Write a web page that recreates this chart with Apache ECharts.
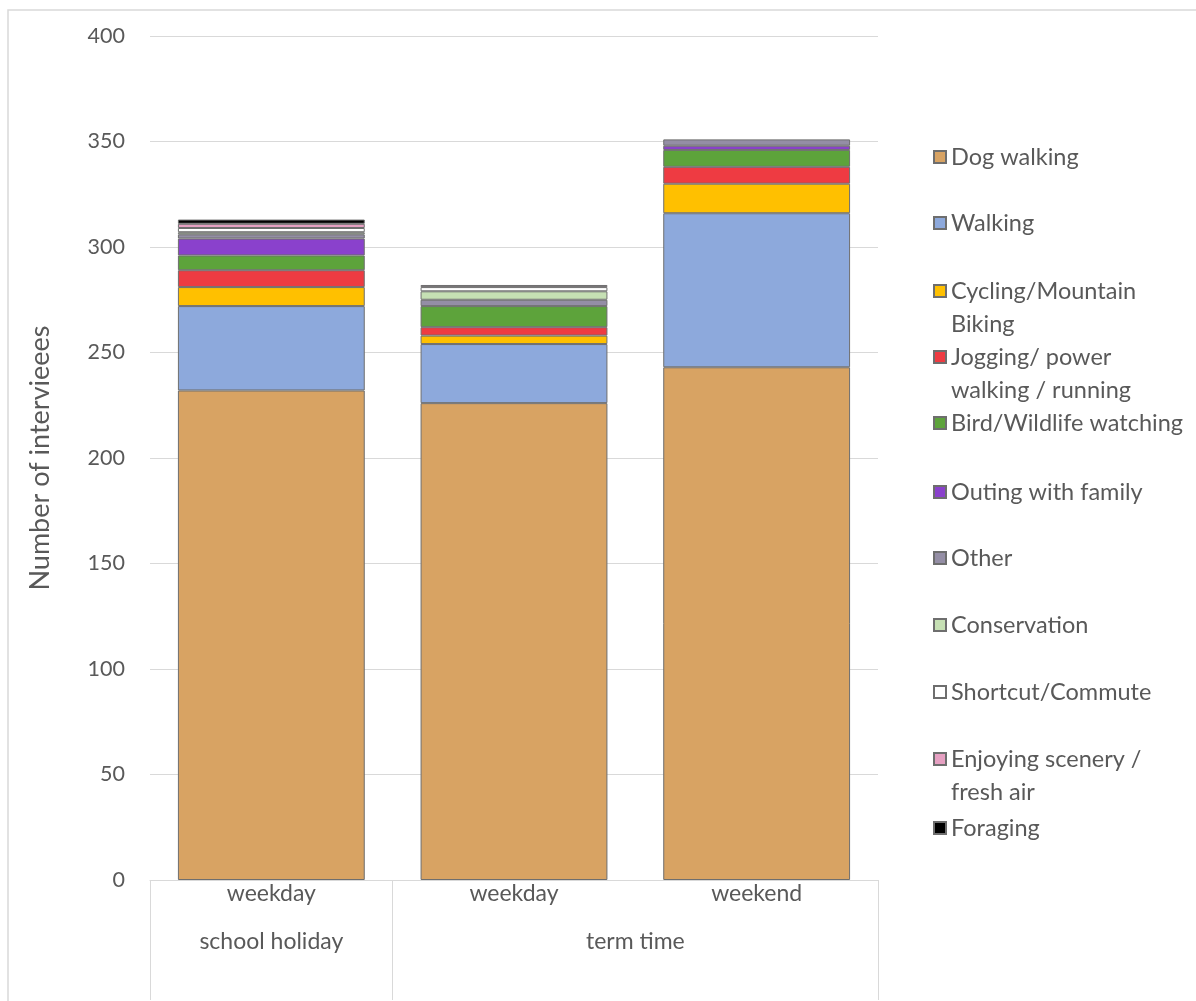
<!DOCTYPE html>
<html>
<head>
<meta charset="utf-8">
<script src="https://cdn.jsdelivr.net/npm/echarts@6/dist/echarts.min.js"></script>
<style>
  html, body { margin: 0; padding: 0; background: #ffffff; }
  #chart { width: 1196px; height: 1001px; }
</style>
</head>
<body>
<div id="chart"></div>
<script>
// Visitor activity by period (stacked counts of interviewees)
const categories = ['weekday', 'weekday', 'weekend'];
const groupLabels = ['school holiday', 'term time'];
const groupSizes = [1, 2];

const dogWalking      = [232, 226, 243];
const walking         = [40, 28, 73];
const cycling         = [9, 4, 14];
const jogging         = [8, 4, 8];
const birdWatching    = [7, 10, 8];
const outingFamily    = [8, 0, 2];
const other           = [2, 3, 3];
const conservation    = [1, 4, 0];
const shortcut        = [2, 2, 0];
const enjoyingScenery = [2, 1, 0];
const foraging        = [2, 0, 0];

const yTicks = { min: 0, max: 400, interval: 50 };

const seriesNames = [
  'Dog walking', 'Walking', 'Cycling/Mountain Biking', 'Jogging/ power walking / running',
  'Bird/Wildlife watching', 'Outing with family', 'Other', 'Conservation',
  'Shortcut/Commute', 'Enjoying scenery / fresh air', 'Foraging'
];
// legend text, wrapped as shown
const legendLines = [
  ['Dog walking'], ['Walking'], ['Cycling/Mountain', 'Biking'], ['Jogging/ power', 'walking / running'],
  ['Bird/Wildlife watching'], ['Outing with family'], ['Other'], ['Conservation'],
  ['Shortcut/Commute'], ['Enjoying scenery /', 'fresh air'], ['Foraging']
];
const seriesValues = [
  dogWalking, walking, cycling, jogging, birdWatching, outingFamily,
  other, conservation, shortcut, enjoyingScenery, foraging
];
const colors = [
  '#D8A363', '#8DA9DC', '#FFC000', '#EE3B42', '#5DA33B', '#8A41CC',
  '#948EA5', '#C6E0B4', '#FFFFFF', '#E6A0C2', '#000000'
];

const textColor = '#595959';
const fontFamily = 'Lato, "Open Sans", sans-serif';
const gridLeft = 150, gridTop = 36, gridRight = 318, gridBottom = 121;

// legend item centres (y) down the right-hand side
const legendCentres = [152, 218, 286, 352, 418, 487, 553, 620, 687, 754, 823];
const legendLineHeight = 33;

const legends = seriesNames.map((name, i) => {
  const lines = legendLines[i];
  const multi = lines.length > 1;
  // a blank first line keeps the swatch level with the first text line
  const text = multi ? ' \n' + lines.join('\n') : lines[0];
  const boxH = multi ? legendLineHeight * 3 : legendLineHeight;
  return {
    data: [name],
    orient: 'vertical',
    left: 928,
    top: legendCentres[i] - boxH / 2,
    itemWidth: 12,
    itemHeight: 12,
    icon: 'rect',
    selectedMode: false,
    formatter: () => text,
    textStyle: {
      color: textColor,
      fontSize: 23.5,
      fontFamily: fontFamily,
      lineHeight: legendLineHeight
    }
  };
});

// group label positions (centre of each group on a 0..n scale)
const groupCentres = [];
const groupEdges = [0];
let acc = 0;
groupSizes.forEach(s => { groupCentres.push(acc + s / 2); acc += s; groupEdges.push(acc); });

const series = seriesNames.map((name, i) => ({
  name: name,
  type: 'bar',
  stack: 'total',
  xAxisIndex: 0,
  barWidth: '77%',
  data: seriesValues[i].map(v => (v === 0 ? '-' : v)),
  itemStyle: {
    color: colors[i],
    borderColor: '#6E6E6E',
    borderWidth: 1
  },
  emphasis: { disabled: true }
}));

const chart = echarts.init(document.getElementById('chart'), null, { renderer: 'canvas' });
chart.setOption({
  animation: false,
  backgroundColor: '#ffffff',
  grid: { left: gridLeft, top: gridTop, right: gridRight, bottom: gridBottom },
  legend: legends,
  graphic: [{
    type: 'rect',
    shape: { x: 8, y: 10, width: 1200, height: 1000 },
    style: { fill: 'none', stroke: '#D9D9D9', lineWidth: 1.5 },
    silent: true
  }],
  xAxis: [
    {
      type: 'category',
      data: categories,
      position: 'bottom',
      axisLine: { show: true, lineStyle: { color: '#D9D9D9', width: 1 } },
      axisTick: { show: false },
      axisLabel: { margin: 2, color: textColor, fontSize: 23, fontFamily: fontFamily },
      splitLine: { show: false }
    },
    {
      type: 'value',
      min: 0,
      max: groupEdges[groupEdges.length - 1],
      position: 'bottom',
      axisLine: { show: false },
      splitLine: { show: false },
      axisTick: {
        show: true,
        customValues: groupEdges,
        length: 120,
        lineStyle: { color: '#D9D9D9', width: 1 }
      },
      axisLabel: {
        customValues: groupCentres,
        margin: 50,
        color: textColor,
        fontSize: 23,
        fontFamily: fontFamily,
        formatter: (v) => {
          const idx = groupCentres.indexOf(v);
          return idx >= 0 ? groupLabels[idx] : '';
        }
      }
    }
  ],
  yAxis: {
    type: 'value',
    min: yTicks.min,
    max: yTicks.max,
    interval: yTicks.interval,
    name: 'Number of intervieees',
    nameLocation: 'middle',
    nameGap: 96,
    nameTextStyle: { color: textColor, fontSize: 27, fontFamily: fontFamily },
    axisLine: { show: false },
    axisTick: { show: false },
    axisLabel: { margin: 25, color: textColor, fontSize: 21.5, fontFamily: fontFamily },
    splitLine: { lineStyle: { color: '#D9D9D9', width: 1 } }
  },
  series: series
});
</script>
</body>
</html>
